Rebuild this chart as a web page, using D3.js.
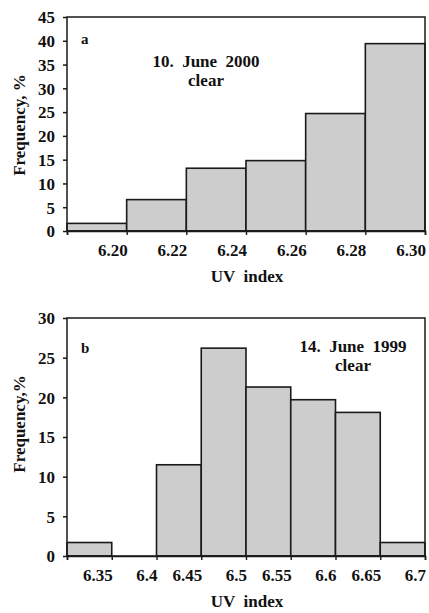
<!DOCTYPE html>
<meta charset="utf-8">
<body>
<script src="https://cdn.jsdelivr.net/npm/d3@7"></script>
<style>
    html, body {
        margin: 0;
        background: #fff;
    }
</style>
<script>
// panel a: 10 June 2000
var edgesA = [6.18, 6.20, 6.22, 6.24, 6.26, 6.28, 6.30],
    freqA = [1.6, 6.6, 13.2, 14.8, 24.7, 39.4],
    tickLabelsA = ["6.20", "6.22", "6.24", "6.26", "6.28", "6.30"],
    yTicksA = [0, 5, 10, 15, 20, 25, 30, 35, 40, 45];

// panel b: 14 June 1999
var edgesB = [6.30, 6.35, 6.40, 6.45, 6.50, 6.55, 6.60, 6.65, 6.70],
    freqB = [1.7, 0, 11.5, 26.2, 21.3, 19.7, 18.1, 1.7],
    tickLabelsB = ["6.35", "6.4", "6.45", "6.5", "6.55", "6.6", "6.65", "6.7"],
    yTicksB = [0, 5, 10, 15, 20, 25, 30];

var width = 429, height = 613,
    serif = "'Liberation Serif', 'Times New Roman', Times, serif",
    fs = 17;

var svg = d3.select("body").append("svg")
    .attr("width", width)
    .attr("height", height)
    .attr("font-family", serif)
    .attr("font-weight", "bold");

function label(g, x, y, s, size) {
    return g.append("text")
        .attr("x", x).attr("y", y)
        .attr("font-family", serif)
        .attr("font-weight", "bold")
        .attr("font-size", size || fs)
        .attr("fill", "#111")
        .style("white-space", "pre")
        .text(s);
}

function panel(o) {
    var x = d3.scaleLinear().domain([o.edges[0], o.edges[o.edges.length - 1]]).range([67, 425]),
        y = d3.scaleLinear().domain([0, o.yMax]).range([o.bottom, o.top]);

    var g = svg.append("g");

    var bins = o.freq.map(function(f, i) { return {x0: o.edges[i], x1: o.edges[i + 1], f: f}; });

    g.selectAll("rect.bar")
        .data(bins)
        .enter().append("rect")
        .attr("class", "bar")
        .attr("x", function(d) { return x(d.x0); })
        .attr("width", function(d) { return x(d.x1) - x(d.x0); })
        .attr("y", function(d) { return y(d.f); })
        .attr("height", function(d) { return y(0) - y(d.f); })
        .attr("fill", "#cdcdcd")
        .attr("stroke", "#1a1a1a")
        .attr("stroke-width", 1.6);

    // frame
    g.append("rect")
        .attr("x", 67).attr("y", o.top)
        .attr("width", 358).attr("height", o.bottom - o.top)
        .attr("fill", "none")
        .attr("stroke", "#1a1a1a")
        .attr("stroke-width", 1.5);

    // y axis
    var ya = g.append("g").attr("transform", "translate(67,0)")
        .call(d3.axisLeft(y).tickValues(o.yTicks).tickSize(4).tickPadding(8).tickFormat(d3.format("d")));
    ya.attr("font-family", serif).attr("font-size", fs).attr("font-weight", "bold");
    ya.select(".domain").remove();
    ya.selectAll("line").attr("stroke", "#1a1a1a").attr("stroke-width", 1.5);
    ya.selectAll("text").attr("fill", "#111").attr("dy", "0.34em");

    // x axis: ticks at bin edges, labels end at the right edge of each bin
    var xa = g.append("g").attr("transform", "translate(0," + o.bottom + ")")
        .call(d3.axisBottom(x).tickValues(o.edges).tickSize(4).tickFormat(""));
    xa.select(".domain").attr("stroke", "#1a1a1a").attr("stroke-width", 1.6);
    xa.selectAll("line").attr("stroke", "#1a1a1a").attr("stroke-width", 1.4);

    o.tickLabels.forEach(function(s, i) {
        label(g, x(o.edges[i + 1]) + 1, o.bottom + 25, s).attr("text-anchor", "end");
    });

    label(g, 247, o.bottom + 51, "UV  index").attr("text-anchor", "middle");

    g.append("text")
        .attr("transform", "translate(25," + o.ylabelY + ")rotate(-90)")
        .attr("text-anchor", "middle")
        .attr("font-family", serif)
        .attr("font-weight", "bold")
        .attr("font-size", fs)
        .attr("fill", "#111")
        .text(o.ylabel);

    label(g, 81, o.top + o.letterDy, o.letter, 15);

    label(g, o.titleX, o.top + o.titleDy, o.title).attr("text-anchor", "middle");
    label(g, o.titleX, o.top + o.titleDy + 19, "clear").attr("text-anchor", "middle");
}

panel({
    edges: edgesA, freq: freqA, tickLabels: tickLabelsA, yTicks: yTicksA, yMax: 45,
    top: 17, bottom: 231, ylabel: "Frequency, %", ylabelY: 125,
    letter: "a", letterDy: 27, title: "10.  June  2000", titleX: 206, titleDy: 50
});

panel({
    edges: edgesB, freq: freqB, tickLabels: tickLabelsB, yTicks: yTicksB, yMax: 30,
    top: 318, bottom: 556, ylabel: "Frequency,%", ylabelY: 424,
    letter: "b", letterDy: 35, title: "14.  June  1999", titleX: 353, titleDy: 34
});
</script>
